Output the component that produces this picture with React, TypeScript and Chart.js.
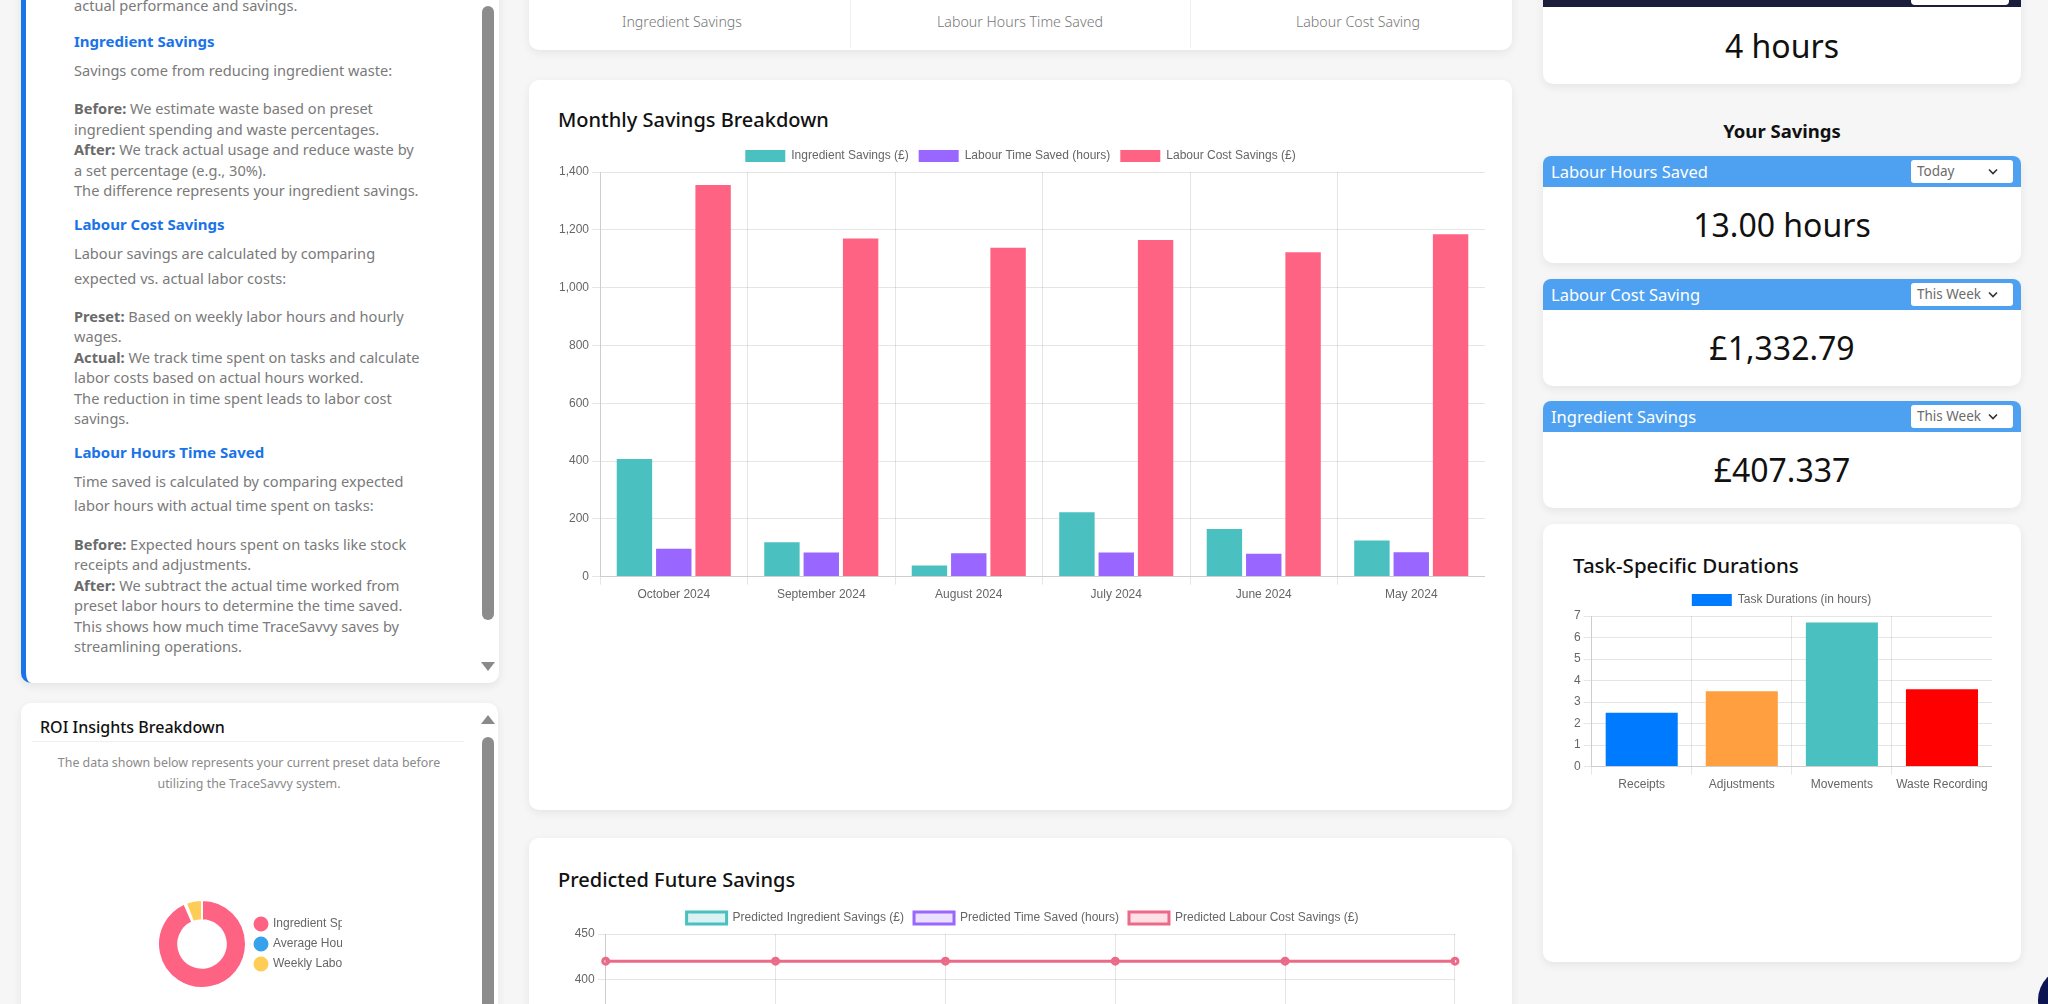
import React, { useEffect, useRef } from 'react';
import { Chart, registerables } from 'chart.js';

Chart.register(...registerables);

// ---- Monthly Savings Breakdown ----
const monthLabels = ['October 2024', 'September 2024', 'August 2024', 'July 2024', 'June 2024', 'May 2024'];
const ingredientSavings = [407.34, 119, 38, 223, 165, 125];
const labourTimeSaved = [96, 83, 81, 83, 79, 84];
const labourCostSavings = [1355, 1170, 1138, 1165, 1122, 1185];

// ---- Task-Specific Durations ----
const taskLabels = ['Receipts', 'Adjustments', 'Movements', 'Waste Recording'];
const taskDurations = [2.5, 3.5, 6.7, 3.6];
const taskColors = ['#007bff', '#ff9f40', '#4bc0c0', '#ff0000'];

// ---- Predicted Future Savings ----
const predictedLabels = ['November 2024', 'December 2024', 'January 2025', 'February 2025', 'March 2025', 'April 2025'];
const predictedIngredient = [180, 180, 180, 180, 180, 180];
const predictedTime = [84, 84, 84, 84, 84, 84];
const predictedLabour = [420, 420, 420, 420, 420, 420];

// ---- ROI Insights ----
const roiLabels = ['Ingredient Spending (£)', 'Average Hourly Wage (£)', 'Weekly Labour Hours'];
const roiValues = [700, 4, 45];
const roiColors = ['#ff6384', '#36a2eb', '#ffcd56'];

const FONT = "'Noto Sans', 'Open Sans', sans-serif";

function ChartCanvas(props: { make: () => any; left: number; top: number; width: number; height: number }) {
  const ref = useRef<HTMLCanvasElement | null>(null);
  useEffect(() => {
    const chart = new Chart(ref.current as HTMLCanvasElement, props.make());
    return () => chart.destroy();
  }, []);
  return (
    <canvas
      ref={ref}
      width={props.width}
      height={props.height}
      style={{ position: 'absolute', left: props.left, top: props.top, width: props.width, height: props.height }}
    />
  );
}

const monthlyConfig = () => ({
  type: 'bar',
  data: {
    labels: monthLabels,
    datasets: [
      { label: 'Ingredient Savings (£)', data: ingredientSavings, backgroundColor: '#4bc0c0' },
      { label: 'Labour Time Saved (hours)', data: labourTimeSaved, backgroundColor: '#9966ff' },
      { label: 'Labour Cost Savings (£)', data: labourCostSavings, backgroundColor: '#ff6384' },
    ],
  },
  options: {
    responsive: false,
    animation: false,
    devicePixelRatio: 1,
    plugins: { legend: { position: 'top' }, tooltip: { enabled: false } },
    scales: { y: { beginAtZero: true } },
  },
});

const taskConfig = () => ({
  type: 'bar',
  data: {
    labels: taskLabels,
    datasets: [{ label: 'Task Durations (in hours)', data: taskDurations, backgroundColor: taskColors }],
  },
  options: {
    responsive: false,
    animation: false,
    devicePixelRatio: 1,
    plugins: { legend: { position: 'top' }, tooltip: { enabled: false } },
    scales: { y: { beginAtZero: true } },
  },
});

const predictedConfig = () => ({
  type: 'line',
  data: {
    labels: predictedLabels,
    datasets: [
      {
        label: 'Predicted Ingredient Savings (£)',
        data: predictedIngredient,
        borderColor: '#4bc0c0',
        backgroundColor: 'rgba(75,192,192,0.2)',
        borderWidth: 3,
        pointRadius: 3,
      },
      {
        label: 'Predicted Time Saved (hours)',
        data: predictedTime,
        borderColor: '#9966ff',
        backgroundColor: 'rgba(153,102,255,0.2)',
        borderWidth: 3,
        pointRadius: 3,
      },
      {
        label: 'Predicted Labour Cost Savings (£)',
        data: predictedLabour,
        borderColor: '#ea6a88',
        backgroundColor: 'rgba(255,99,132,0.2)',
        borderWidth: 3,
        pointRadius: 3,
      },
    ],
  },
  options: {
    responsive: false,
    animation: false,
    devicePixelRatio: 1,
    plugins: { legend: { position: 'top' }, tooltip: { enabled: false } },
    scales: { y: { beginAtZero: true } },
  },
});

const roiConfig = () => ({
  type: 'doughnut',
  data: {
    labels: roiLabels,
    datasets: [{ data: roiValues, backgroundColor: roiColors, borderColor: '#fff', borderWidth: 2 }],
  },
  options: {
    responsive: false,
    animation: false,
    devicePixelRatio: 1,
    cutout: '54%',
    plugins: {
      legend: {
        position: 'right',
        maxWidth: 95,
        labels: { usePointStyle: true, pointStyle: 'circle', padding: 8, boxWidth: 12 },
      },
      tooltip: { enabled: false },
    },
  },
});

type Line = [number, 'h' | 'p', string, string];
const explainLines: Line[] = [
  [5, 'p', '', 'actual performance and savings.'],
  [41, 'h', '', 'Ingredient Savings'],
  [70, 'p', '', 'Savings come from reducing ingredient waste:'],
  [108, 'p', 'Before:', ' We estimate waste based on preset'],
  [129, 'p', '', 'ingredient spending and waste percentages.'],
  [149, 'p', 'After:', ' We track actual usage and reduce waste by'],
  [170, 'p', '', 'a set percentage (e.g., 30%).'],
  [190, 'p', '', 'The difference represents your ingredient savings.'],
  [224, 'h', '', 'Labour Cost Savings'],
  [253, 'p', '', 'Labour savings are calculated by comparing'],
  [278, 'p', '', 'expected vs. actual labor costs:'],
  [316, 'p', 'Preset:', ' Based on weekly labor hours and hourly'],
  [336, 'p', '', 'wages.'],
  [357, 'p', 'Actual:', ' We track time spent on tasks and calculate'],
  [377, 'p', '', 'labor costs based on actual hours worked.'],
  [398, 'p', '', 'The reduction in time spent leads to labor cost'],
  [418, 'p', '', 'savings.'],
  [452, 'h', '', 'Labour Hours Time Saved'],
  [481, 'p', '', 'Time saved is calculated by comparing expected'],
  [505, 'p', '', 'labor hours with actual time spent on tasks:'],
  [544, 'p', 'Before:', ' Expected hours spent on tasks like stock'],
  [564, 'p', '', 'receipts and adjustments.'],
  [585, 'p', 'After:', ' We subtract the actual time worked from'],
  [605, 'p', '', 'preset labor hours to determine the time saved.'],
  [626, 'p', '', 'This shows how much time TraceSavvy saves by'],
  [646, 'p', '', 'streamlining operations.'],
];

const abs = (l: number, t: number, extra: any = {}) => ({ position: 'absolute' as const, left: l, top: t, ...extra });

function Card(props: { l: number; t: number; w: number; h: number; style?: any }) {
  return (
    <div
      style={abs(props.l, props.t, {
        width: props.w,
        height: props.h,
        background: '#fff',
        borderRadius: 10,
        boxShadow: '0 3px 10px rgba(0,0,0,0.07)',
        boxSizing: 'border-box',
        ...(props.style || {}),
      })}
    />
  );
}

function Dropdown(props: { l: number; t: number; text: string }) {
  return (
    <div
      style={abs(props.l, props.t, {
        width: 102,
        height: 23,
        background: '#fff',
        borderRadius: 3,
        fontSize: 13.5,
        color: '#6b6b6b',
        lineHeight: '23px',
        paddingLeft: 6,
        boxSizing: 'border-box',
        fontFamily: FONT,
      })}
    >
      {props.text}
      <svg width="12" height="8" style={{ position: 'absolute', left: 76, top: 8 }}>
        <polyline points="2,1.5 6,5.5 10,1.5" fill="none" stroke="#333" strokeWidth="1.6" />
      </svg>
    </div>
  );
}

function Triangle(props: { l: number; t: number; up: boolean }) {
  return (
    <svg width="14" height="9" style={abs(props.l, props.t)}>
      {props.up ? <polygon points="0,9 14,9 7,0" fill="#8a8a8a" /> : <polygon points="0,0 14,0 7,9" fill="#8a8a8a" />}
    </svg>
  );
}

function SavingCard(props: { t: number; title: string; dd: string; value: string }) {
  const { t } = props;
  return (
    <>
      <Card l={1543} t={t} w={478} h={107} />
      <div style={abs(1543, t, { width: 478, height: 31, background: '#4ea1f0', borderRadius: '8px 8px 0 0' })} />
      <div style={abs(1551, t, { height: 31, lineHeight: '31px', color: '#fff', fontSize: 16.5, fontFamily: FONT })}>
        {props.title}
      </div>
      <Dropdown l={1911} t={t + 4} text={props.dd} />
      <div
        style={abs(1543, t + 47, {
          width: 478,
          textAlign: 'center',
          fontSize: 32,
          lineHeight: '44px',
          color: '#111',
          fontFamily: FONT,
        })}
      >
        {props.value}
      </div>
    </>
  );
}

export default function App() {
  return (
    <div
      style={{
        position: 'fixed',
        left: 0,
        top: 0,
        width: 2048,
        height: 1004,
        overflow: 'hidden',
        background: '#f6f6f7',
        fontFamily: FONT,
      }}
    >
      {/* Left explanation card */}
      <div
        style={abs(21, -40, {
          width: 478,
          height: 723,
          background: '#fff',
          borderRadius: 10,
          borderLeft: '5px solid #1a73e8',
          boxShadow: '0 3px 10px rgba(0,0,0,0.08)',
          boxSizing: 'border-box',
        })}
      />
      {explainLines.map(([y, kind, bold, rest], i) => (
        <div
          key={i}
          style={abs(74, y - 10, {
            height: 20,
            lineHeight: '20px',
            whiteSpace: 'nowrap',
            fontSize: kind === 'h' ? 15 : 14.6,
            fontWeight: kind === 'h' ? 700 : 400,
            color: kind === 'h' ? '#1a73e8' : '#7a7a7a',
          })}
        >
          {bold ? <span style={{ fontWeight: 700, color: '#6a6a6a' }}>{bold}</span> : null}
          {rest}
        </div>
      ))}
      <div style={abs(482, 6, { width: 12, height: 614, background: '#8c8c8c', borderRadius: 6 })} />
      <Triangle l={481} t={662} up={false} />

      {/* ROI card */}
      <Card l={21} t={703} w={477} h={400} />
      <div style={abs(40, 715, { fontSize: 16, fontWeight: 500, color: '#111', lineHeight: '24px' })}>
        ROI Insights Breakdown
      </div>
      <div style={abs(32, 741, { width: 432, height: 1, background: '#eeeeee' })} />
      <div
        style={abs(40, 752, {
          width: 418,
          textAlign: 'center',
          fontSize: 12.4,
          color: '#8a8a8a',
          lineHeight: '21px',
        })}
      >
        <div style={{ whiteSpace: 'nowrap' }}>The data shown below represents your current preset data before</div>
        <div style={{ whiteSpace: 'nowrap' }}>utilizing the TraceSavvy system.</div>
      </div>
      <Triangle l={481} t={715} up={true} />
      <div style={abs(482, 737, { width: 12, height: 300, background: '#8c8c8c', borderRadius: 6 })} />
      <ChartCanvas make={roiConfig} left={157} top={899} width={185} height={90} />

      {/* Middle KPI card */}
      <Card l={529} t={-60} w={983} h={110} />
      <div style={abs(850, 0, { width: 1, height: 48, background: '#f0f0f0' })} />
      <div style={abs(1190, 0, { width: 1, height: 48, background: '#f0f0f0' })} />
      {[
        [682, 'Ingredient Savings'],
        [1020, 'Labour Hours Time Saved'],
        [1358, 'Labour Cost Saving'],
      ].map(([x, t], i) => (
        <div
          key={i}
          style={abs((x as number) - 150, 12, {
            width: 300,
            textAlign: 'center',
            fontSize: 14.2,
            fontWeight: 300,
            color: '#777',
            lineHeight: '20px',
          })}
        >
          {t}
        </div>
      ))}

      {/* Monthly card */}
      <Card l={529} t={80} w={983} h={730} />
      <div style={abs(558, 106, { fontSize: 20, fontWeight: 500, color: '#111', lineHeight: '28px' })}>
        Monthly Savings Breakdown
      </div>
      <ChartCanvas make={monthlyConfig} left={556} top={140} width={929} height={465} />

      {/* Predicted card */}
      <Card l={529} t={838} w={983} h={560} />
      <div style={abs(558, 866, { fontSize: 20, fontWeight: 500, color: '#111', lineHeight: '28px' })}>
        Predicted Future Savings
      </div>
      <ChartCanvas make={predictedConfig} left={560} top={902} width={925} height={468} />

      {/* Right column */}
      <Card l={1543} t={-60} w={478} h={144} />
      <div style={abs(1543, -60, { width: 478, height: 67, background: '#1c1c3c', borderRadius: '10px 10px 0 0' })} />
      <div style={abs(1911, -20, { width: 98, height: 25, background: '#fff', borderRadius: 4 })} />
      <div
        style={abs(1543, 24, { width: 478, textAlign: 'center', fontSize: 32, lineHeight: '44px', color: '#111' })}
      >
        4 hours
      </div>
      <div
        style={abs(1543, 118, {
          width: 478,
          textAlign: 'center',
          fontSize: 18.5,
          fontWeight: 700,
          color: '#111',
          lineHeight: '26px',
        })}
      >
        Your Savings
      </div>
      <SavingCard t={156} title="Labour Hours Saved" dd="Today" value="13.00 hours" />
      <SavingCard t={279} title="Labour Cost Saving" dd="This Week" value="£1,332.79" />
      <SavingCard t={401} title="Ingredient Savings" dd="This Week" value="£407.337" />

      <Card l={1543} t={524} w={478} h={438} />
      <div style={abs(1573, 551, { fontSize: 20.5, fontWeight: 500, color: '#111', lineHeight: '28px' })}>
        Task-Specific Durations
      </div>
      <ChartCanvas make={taskConfig} left={1571} top={584} width={421} height={211} />

      <div style={abs(2038, 968, { width: 64, height: 64, borderRadius: 32, background: '#0c1452' })} />
    </div>
  );
}
